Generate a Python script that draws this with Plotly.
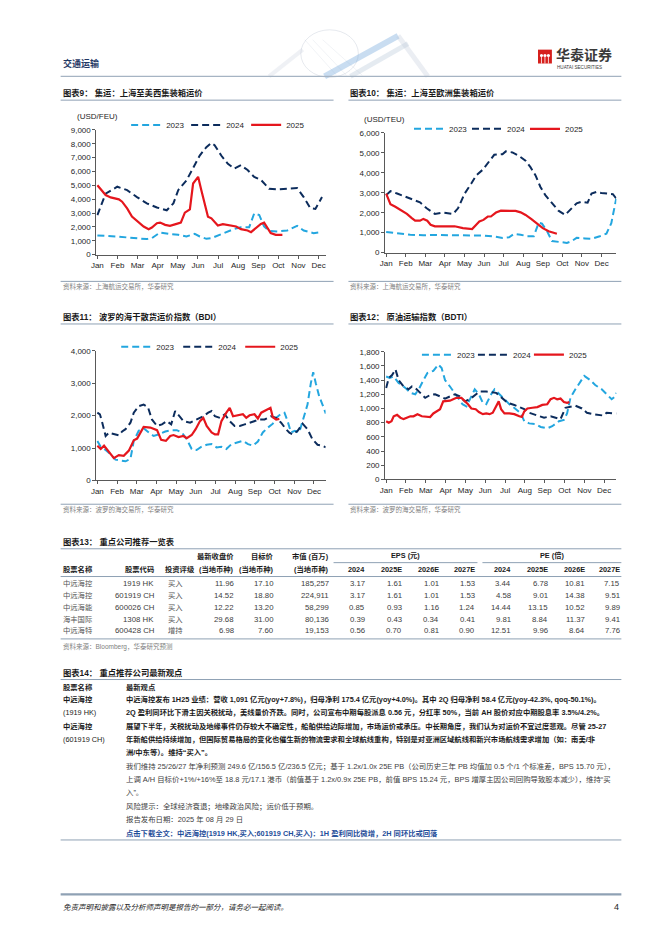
import plotly.graph_objects as go

W, H = 662, 936
FONT = "Liberation Sans, Arial, Noto Sans CJK SC, sans-serif"

# ------------------------------------------------------------------ data
MONTHS = ["Jan", "Feb", "Mar", "Apr", "May", "Jun", "Jul", "Aug", "Sep", "Oct", "Nov", "Dec"]
YEARS = ["2023", "2024", "2025"]
# time = months elapsed since 1 Jan (0 = Jan ... 11 = Dec)

# Chart 9: Shanghai -> US West coast (USD/FEU)
us_t23 = [0, 0.49, 0.99, 1.48, 1.97, 2.46, 2.71, 3.12, 3.53, 4.02, 4.43, 4.84, 5.09, 5.42, 5.67, 6.08, 6.49, 6.81,
          7.14, 7.55, 7.80, 8.05, 8.29, 8.54, 8.95, 9.44, 9.93, 10.26, 10.75, 11.0]
us_v23 = [1380, 1360, 1310, 1240, 1170, 1120, 1190, 1600, 1500, 1430, 1310, 1500, 1310, 1140, 1190, 1430, 1670, 1860,
          1980, 1980, 2980, 2860, 2030, 1720, 1670, 1740, 2080, 1740, 1550, 1600]
us_t24 = [0, 0.41, 0.99, 1.48, 1.97, 2.46, 2.96, 3.45, 3.78, 4.02, 4.43, 4.76, 5.09, 5.42, 5.67, 5.83, 6.16, 6.49,
          6.81, 7.14, 7.47, 7.80, 8.13, 8.54, 8.95, 9.44, 9.93, 10.26, 10.59, 10.84, 11.17]
us_v24 = [2850, 4400, 4900, 4650, 4150, 3700, 3400, 3200, 3700, 4650, 5350, 6300, 7150, 7750, 8050, 7900, 7150, 6550,
          6200, 6450, 6100, 5600, 5400, 4750, 4700, 4750, 4800, 4150, 3350, 3300, 4150]
us_t25 = [0, 0.41, 0.66, 1.07, 1.23, 1.48, 1.72, 1.97, 2.30, 2.55, 2.71, 2.96, 3.12, 3.37, 3.61, 3.94, 4.15, 4.35,
          4.60, 4.76, 5.01, 5.17, 5.34, 5.50, 5.67, 5.83, 5.99, 6.24, 6.57, 6.90, 7.14, 7.47, 7.64, 7.88, 8.13, 8.29,
          8.46, 8.62, 8.87, 9.20]
us_v25 = [5010, 4300, 4130, 3990, 3820, 3340, 2750, 2430, 2030, 1840, 1960, 2270, 2310, 2150, 2080, 2220, 2310, 3030,
          3270, 5130, 5610, 4650, 3700, 2740, 2620, 2390, 2100, 2200, 2100, 2030, 1840, 1740, 1620, 1910, 2220, 2310,
          1910, 1550, 1430, 1430]

# Chart 10: Shanghai -> Europe (USD/TEU)
eu_t23 = [0, 0.39, 0.72, 1.23, 1.90, 2.58, 3.25, 4.09, 4.93, 5.44, 5.94, 6.28, 6.53, 6.87, 7.21, 7.54, 7.79, 7.96,
          8.22, 8.47, 8.80, 9.23, 9.48, 9.73, 10.15, 10.49, 10.91, 11.25, 11.50, 11.67, 11.75]
eu_v23 = [1040, 990, 940, 900, 870, 890, 870, 870, 860, 820, 740, 770, 940, 900, 820, 820, 1500, 1450,
          1070, 580, 540, 490, 580, 740, 710, 690, 820, 950, 1480, 2300, 2700]
eu_t24 = [0, 0.22, 0.56, 0.98, 1.40, 1.73, 2.07, 2.49, 2.91, 3.42, 3.67, 4.01, 4.34, 4.60, 4.93, 5.27, 5.52, 5.94,
          6.11, 6.45, 6.78, 7.12, 7.37, 7.63, 7.88, 8.13, 8.47, 8.80, 9.14, 9.39, 9.73, 9.98, 10.29, 10.49, 10.74,
          10.99, 11.33, 11.58, 11.75]
eu_v24 = [2880, 3080, 2960, 2800, 2680, 2520, 2220, 1940, 2010, 1940, 2220, 2960, 3450, 3870, 4150, 4600, 4900, 4930,
          5070, 5020, 4850, 4600, 4280, 3870, 3290, 2880, 2470, 2100, 1890, 2140, 2470, 2550, 2500, 2960, 3040,
          2990, 2960, 2930, 2710]
eu_t25 = [0, 0.13, 0.22, 0.47, 0.81, 1.06, 1.31, 1.48, 1.73, 1.90, 2.10, 2.27, 2.49, 2.83, 3.08, 3.50, 3.92, 4.17,
          4.39, 4.60, 4.76, 4.97, 5.19, 5.35, 5.61, 5.86, 6.28, 6.61, 6.87, 7.12, 7.42, 7.71, 8.00, 8.30, 8.72]
eu_v25 = [2960, 2660, 2430, 2300, 2100, 1940, 1730, 1600, 1600, 1690, 1600, 1400, 1320, 1320, 1350, 1320, 1230, 1200,
          1180, 1400, 1560, 1640, 1810, 1810, 2010, 2100, 2100, 2090, 2020, 1890, 1680, 1450, 1230, 1070, 950]

# Chart 11: Baltic Dry Index
bdi_t23 = [0, 0.17, 0.42, 0.67, 0.92, 1.18, 1.43, 1.68, 1.85, 2.10, 2.35, 2.61, 2.86, 3.11, 3.45, 3.78, 4.03, 4.29,
           4.54, 4.79, 5.04, 5.29, 5.55, 5.80, 6.05, 6.30, 6.55, 6.81, 7.06, 7.39, 7.65, 7.90, 8.15, 8.40, 8.66, 8.91,
           9.08, 9.33, 9.50, 9.66, 9.83, 10.03, 10.25, 10.42, 10.67, 10.84, 10.96, 11.09, 11.26, 11.43, 11.60]
bdi_v23 = [1220, 1040, 940, 810, 640, 610, 590, 660, 1220, 1530, 1610, 1480, 1370, 1420, 1510, 1550, 1550, 1480,
           1270, 970, 940, 1040, 1100, 1120, 1020, 1040, 970, 1120, 1170, 1220, 1120, 1070, 1200, 1480, 1630, 1750,
           1930, 2060, 2090, 1830, 1480, 1530, 1480, 1830, 2340, 3000, 3340, 3000, 2600, 2340, 2060]
bdi_t24 = [0, 0.13, 0.25, 0.42, 0.59, 0.84, 1.09, 1.26, 1.43, 1.68, 1.85, 2.10, 2.35, 2.57, 2.77, 3.03, 3.28, 3.53,
           3.75, 3.95, 4.15, 4.37, 4.71, 5.04, 5.38, 5.63, 5.80, 5.97, 6.22, 6.47, 6.72, 6.97, 7.23, 7.48, 7.73, 7.98,
           8.24, 8.49, 8.82, 9.08, 9.33, 9.58, 9.75, 9.92, 10.17, 10.42, 10.67, 10.92, 11.18, 11.43, 11.60]
bdi_v24 = [2090, 2040, 1780, 1370, 1470, 1440, 1390, 1510, 1580, 1780, 2090, 2290, 2340, 2260, 1880, 1680, 1730, 1830,
           1730, 2140, 1980, 1830, 1780, 1880, 1980, 2090, 2140, 1980, 1930, 2040, 1830, 1680, 1680, 1730, 1780, 1830,
           1880, 1880, 1980, 1930, 1780, 1580, 1470, 1420, 1530, 1750, 1580, 1270, 1100, 1070, 1020]
bdi_t25 = [0, 0.17, 0.34, 0.59, 0.84, 1.09, 1.34, 1.60, 1.85, 2.02, 2.18, 2.35, 2.69, 3.03, 3.24, 3.48, 3.70, 3.87,
           4.12, 4.37, 4.54, 4.79, 4.99, 5.21, 5.38, 5.55, 5.80, 5.97, 6.13, 6.30, 6.55, 6.72, 6.89, 7.14, 7.39, 7.56,
           7.73, 7.98, 8.15, 8.32, 8.57, 8.79, 8.91, 9.08, 9.24]
bdi_v25 = [1070, 970, 1070, 870, 690, 780, 760, 920, 1240, 1290, 1480, 1650, 1630, 1550, 1250, 1220, 1370, 1400,
           1340, 1370, 1300, 1400, 1580, 1830, 1930, 1680, 1480, 1420, 1420, 1830, 2090, 2240, 1980, 2010, 2040, 1930,
           2010, 2040, 1910, 2090, 2160, 2240, 1950, 1880, 1900]

# Chart 12: Baltic Dirty Tanker Index
bdti_t23 = [0, 0.18, 0.38, 0.63, 0.97, 1.22, 1.47, 1.68, 1.88, 2.08, 2.38, 2.63, 2.80, 2.97, 3.22, 3.38, 3.63, 3.85,
            4.05, 4.30, 4.47, 4.68, 4.88, 5.05, 5.30, 5.47, 5.72, 5.97, 6.22, 6.55, 6.80, 6.97, 7.22, 7.55, 7.80, 8.13,
            8.38, 8.72, 8.97, 9.13, 9.30, 9.55, 9.80, 10.00, 10.30, 10.55, 10.88, 11.13, 11.38, 11.55, 11.62]
bdti_v23 = [1450, 1430, 1450, 1360, 1290, 1220, 1200, 1290, 1400, 1500, 1530, 1620, 1570, 1400, 1310, 1240, 1150, 1060,
            1030, 1170, 1270, 1200, 1080, 1060, 1200, 1270, 1200, 1130, 1060, 990, 930, 820, 790, 780, 740, 720,
            750, 820, 840, 930, 1150, 1270, 1380, 1460, 1400, 1330, 1270, 1200, 1130, 1170, 1220]
bdti_t24 = [0, 0.13, 0.30, 0.47, 0.63, 0.88, 1.13, 1.30, 1.47, 1.72, 1.97, 2.22, 2.47, 2.72, 2.97, 3.22, 3.47, 3.72,
            3.97, 4.22, 4.47, 4.72, 5.05, 5.30, 5.55, 5.80, 6.13, 6.47, 6.72, 6.97, 7.22, 7.47, 7.72, 7.97, 8.30, 8.55,
            8.80, 9.05, 9.30, 9.55, 9.88, 10.13, 10.47, 10.80, 10.97, 11.13, 11.38, 11.62]
bdti_v24 = [1290, 1430, 1470, 1550, 1400, 1310, 1270, 1310, 1290, 1220, 1150, 1190, 1200, 1170, 1140, 1170, 1200, 1170,
            1100, 1130, 1190, 1240, 1240, 1230, 1220, 1160, 1080, 1050, 1020, 990, 940, 920, 890, 870, 890, 870,
            850, 1010, 1030, 1040, 1000, 940, 920, 910, 900, 940, 930, 930]
bdti_t25 = [0, 0.13, 0.27, 0.38, 0.55, 0.72, 0.88, 1.05, 1.22, 1.38, 1.58, 1.80, 2.02, 2.22, 2.38, 2.55, 2.72, 2.88,
            3.05, 3.22, 3.38, 3.55, 3.80, 3.97, 4.13, 4.30, 4.52, 4.68, 4.88, 5.05, 5.22, 5.38, 5.52, 5.68, 5.80, 5.97,
            6.22, 6.47, 6.72, 6.85, 6.97, 7.13, 7.38, 7.63, 7.88, 8.13, 8.30, 8.47, 8.63, 8.80, 8.97, 9.13, 9.25]
bdti_v25 = [820, 800, 820, 890, 910, 870, 850, 870, 890, 890, 920, 890, 880, 880, 930, 960, 990, 1100,
            1100, 1110, 1130, 1150, 1150, 1110, 1060, 1000, 990, 950, 920, 930, 920, 940, 1010, 1100, 990, 930,
            930, 920, 890, 880, 960, 1000, 1010, 1020, 1050, 1060, 1130, 1150, 1130, 1140, 1090, 1080, 1090]

# Table 13
tb_names = ["中远海控", "中远海控", "中远海能", "海丰国际", "中远海特"]
tb_codes = ["1919 HK", "601919 CH", "600026 CH", "1308 HK", "600428 CH"]
tb_rating = ["买入", "买入", "买入", "买入", "增持"]
tb_close = [11.96, 14.52, 12.22, 29.68, 6.98]
tb_target = [17.10, 18.80, 13.20, 31.00, 7.60]
tb_mcap = [185257, 224911, 58299, 80136, 19153]
tb_eps = [[3.17, 1.61, 1.01, 1.53], [3.17, 1.61, 1.01, 1.53], [0.85, 0.93, 1.16, 1.24],
          [0.39, 0.43, 0.34, 0.41], [0.56, 0.70, 0.81, 0.90]]
tb_pe = [[3.44, 6.78, 10.81, 7.15], [4.58, 9.01, 14.38, 9.51], [14.44, 13.15, 10.52, 9.89],
         [9.81, 8.84, 11.37, 9.41], [12.51, 9.96, 8.64, 7.76]]
tb_years = ["2024", "2025E", "2026E", "2027E"]

# Table 14
view_left = ["<b>中远海控</b>", "(1919 HK)", "<b>中远海控</b>", "(601919 CH)"]
view_bold = [
    "中远海控发布 1H25 业绩：营收 1,091 亿元(yoy+7.8%)，归母净利 175.4 亿元(yoy+4.0%)。其中 2Q 归母净利 58.4 亿元(yoy-42.3%, qoq-50.1%)。",
    "2Q 盈利同环比下滑主因关税扰动，美线量价齐跌。同时，公司宣布中期每股派息 0.56 元，分红率 50%，当前 AH 股价对应中期股息率 3.5%/4.2%。",
    "展望下半年，关税扰动及地缘事件仍存较大不确定性，船舶供给边际增加，市场运价或承压。中长期角度，我们认为对运价不宜过度悲观。尽管 25-27",
    "年新船供给持续增加，但国际贸易格局的变化也催生新的物流需求和全球航线重构，特别是对亚洲区域航线和新兴市场航线需求增加（如：南美/非",
    "洲/中东等）。维持“买入”。",
]
view_plain = [
    "我们维持 25/26/27 年净利预测 249.6 亿/156.5 亿/236.5 亿元；基于 1.2x/1.0x 25E PB（公司历史三年 PB 均值加 0.5 个/1 个标准差，BPS 15.70 元），",
    "上调 A/H 目标价+1%/+16%至 18.8 元/17.1 港币（前值基于 1.2x/0.9x 25E PB，前值 BPS 15.24 元，BPS 增厚主因公司回购导致股本减少），维持“买",
    "入”。",
    "风险提示：全球经济衰退；地缘政治风险；运价低于预期。",
    "报告发布日期：2025 年 08 月 29 日",
]
view_link = "点击下载全文：中远海控(1919 HK,买入;601919 CH,买入)：1H 盈利同比微增，2H 同环比或回落"

# ------------------------------------------------------------------ styling
C23, C24, C25 = "#23A6DF", "#0C2C5C", "#E5161D"
LINE_C = "#8FA1B4"
ann, shapes = [], []


def X(px):
    return px / W


def Y(py):
    return 1 - py / H


def txt(x, y, s, size=8, color="#333333", anchor="left", family=FONT):
    ann.append(dict(x=X(x), y=Y(y), xref="paper", yref="paper", text=s, showarrow=False,
                    xanchor=anchor, yanchor="middle", borderpad=0,
                    font=dict(size=size, color=color, family=family)))


def hline(x0, x1, y, color=LINE_C, width=1):
    shapes.append(dict(type="line", xref="paper", yref="paper", x0=X(x0), x1=X(x1), y0=Y(y), y1=Y(y),
                       line=dict(color=color, width=width)))


def seg(x0, y0, x1, y1, color, width):
    shapes.append(dict(type="line", xref="paper", yref="paper", x0=X(x0), x1=X(x1), y0=Y(y0), y1=Y(y1),
                       line=dict(color=color, width=width), layer="below"))


fig = go.Figure()

charts = [
    dict(series=[(us_t23, us_v23), (us_t24, us_v24), (us_t25, us_v25)], ax="", xpx=(84, 315), ypx=(119, 245),
         xr=[-0.05, 11.35], ymax=9000, dt=1000, leg=(114, 114, 15), unit=("(USD/FEU)", 63, 106)),
    dict(series=[(eu_t23, eu_v23), (eu_t24, eu_v24), (eu_t25, eu_v25)], ax="2", xpx=(375, 608), ypx=(122, 243),
         xr=[-0.05, 11.76], ymax=6000, dt=1000, leg=(399, 118, 13), unit=("(USD/TEU)", 353, 109)),
    dict(series=[(bdi_t23, bdi_v23), (bdi_t24, bdi_v24), (bdi_t25, bdi_v25)], ax="3", xpx=(84, 315), ypx=(342, 473),
         xr=[-0.05, 11.59], ymax=4000, dt=1000, leg=(104, 338, 17), unit=None),
    dict(series=[(bdti_t23, bdti_v23), (bdti_t24, bdti_v24), (bdti_t25, bdti_v25)], ax="4", xpx=(375, 608),
         ypx=(343, 472), xr=[-0.05, 11.62], ymax=1800, dt=200, leg=(407, 346, 11), unit=None),
]

styles = [dict(color=C23, width=2, dash="7px,4px"), dict(color=C24, width=2, dash="7px,4px"),
          dict(color=C25, width=2.2)]

layout_extra = {}
for i, c in enumerate(charts):
    legname = "legend" if i == 0 else f"legend{i + 1}"
    for k, ((t, v), yr, st) in enumerate(zip(c["series"], YEARS, styles)):
        fig.add_trace(go.Scatter(x=t, y=v, mode="lines", name=yr, line=st,
                                 xaxis="x" + c["ax"], yaxis="y" + c["ax"], legend=legname,
                                 legendwidth=c["leg"][2] if k < 2 else 30, hoverinfo="skip"))
    axis_common = dict(showline=True, linecolor="#595959", linewidth=1, ticks="outside", ticklen=3,
                       tickcolor="#595959", showgrid=False, zeroline=False,
                       tickfont=dict(size=8, color="#262626", family=FONT))
    layout_extra["xaxis" + c["ax"]] = dict(domain=[X(c["xpx"][0]), X(c["xpx"][1])], range=c["xr"],
                                           tickmode="array", tickvals=list(range(12)), ticktext=MONTHS,
                                           anchor="y" + c["ax"], **axis_common)
    layout_extra["yaxis" + c["ax"]] = dict(domain=[Y(c["ypx"][1]), Y(c["ypx"][0])], range=[0, c["ymax"]],
                                           dtick=c["dt"], tick0=0, tickformat=",", anchor="x" + c["ax"],
                                           **axis_common)
    layout_extra[legname] = dict(x=X(c["leg"][0]), y=Y(c["leg"][1]), xanchor="left", yanchor="middle",
                                 orientation="h", bgcolor="rgba(0,0,0,0)", borderwidth=0,
                                 font=dict(size=8, color="#262626", family=FONT), itemwidth=30,
                                 tracegroupgap=0)
    if c["unit"]:
        txt(c["unit"][1], c["unit"][2], c["unit"][0], size=8, color="#262626")

# ------------------------------------------------------------------ page header / footer
# faint globe / ribbon decoration
shapes.append(dict(type="circle", xref="paper", yref="paper", x0=X(290), x1=X(348), y0=Y(66), y1=Y(18),
                   line=dict(color="rgba(150,165,185,0.3)", width=0.8), layer="below"))
for a, b in [(294, 300), (302, 310), (312, 326)]:
    seg(a, 28, b + 26, 64, "rgba(150,165,185,0.22)", 0.6)
seg(314, 65, 388, 24, "rgba(120,170,220,0.4)", 6)
seg(340, 65, 398, 32, "rgba(170,190,210,0.3)", 5)
seg(388, 24, 418, 65, "rgba(190,200,215,0.3)", 5)
seg(258, 65, 292, 38, "rgba(190,200,215,0.25)", 4)

txt(49, 52, "<b>交通运输</b>", size=9, color="#1F3864")
hline(48, 613, 65, color="#A6B4C3", width=1.2)
shapes.append(dict(type="rect", xref="paper", yref="paper", x0=X(529), x1=X(543), y0=Y(52), y1=Y(38),
                   fillcolor="#D6201C", line=dict(width=0)))
for cx in (532.5, 536, 539.5):
    shapes.append(dict(type="circle", xref="paper", yref="paper", x0=X(cx - 1.6), x1=X(cx + 1.6),
                       y0=Y(45.5), y1=Y(42.3), fillcolor="white", line=dict(width=0)))
    shapes.append(dict(type="line", xref="paper", yref="paper", x0=X(cx), x1=X(cx), y0=Y(52), y1=Y(45),
                       line=dict(color="white", width=0.8)))
txt(546, 43, "<b>华泰证券</b>", size=14, color="#3A3A3A")
txt(547, 56.5, "HUATAI SECURITIES", size=4.6, color="#3A3A3A")

hline(48, 613, 891, color="#8FA1B4", width=2.2)
txt(49, 904, "<i>免责声明和披露以及分析师声明是报告的一部分，请务必一起阅读。</i>", size=7.5, color="#262626")
txt(612, 904, "4", size=9, color="#262626", anchor="right")

# ------------------------------------------------------------------ chart titles / sources
titles = [("图表9： 集运：上海至美西集装箱运价", 49, 82, 48, 323),
          ("图表10： 集运：上海至欧洲集装箱运价", 339, 82, 338, 613),
          ("图表11： 波罗的海干散货运价指数（BDI）", 49, 308, 48, 323),
          ("图表12： 原油运输指数（BDTI）", 339, 308, 338, 613)]
for s, x, y, l0, l1 in titles:
    txt(x, y, "<b>" + s + "</b>", size=8.3, color="#1A1A1A")
    hline(l0, l1, y + 7)
sources = [("资料来源：上海航运交易所，华泰研究", 49, 277, 48, 323),
           ("资料来源：上海航运交易所，华泰研究", 339, 277, 338, 613),
           ("资料来源：波罗的海交易所，华泰研究", 49, 502, 48, 323),
           ("资料来源：波罗的海交易所，华泰研究", 339, 502, 338, 613)]
for s, x, y, l0, l1 in sources:
    txt(x, y, s, size=6.5, color="#808080")
    hline(l0, l1, y - 5)

# ------------------------------------------------------------------ table 13
txt(49, 535, "<b>图表13： 重点公司推荐一览表</b>", size=8.3, color="#1A1A1A")
hline(48, 613, 542)
HB = dict(size=7.3, color="#1A1A1A")
txt(224, 550, "<b>最新收盘价</b>", anchor="right", **HB)
txt(264, 550, "<b>目标价</b>", anchor="right", **HB)
txt(319, 550, "<b>市值 (百万)</b>", anchor="right", **HB)
txt(395, 549, "<b>EPS (元)</b>", anchor="center", **HB)
txt(543, 549, "<b>PE (倍)</b>", anchor="center", **HB)
hline(323, 468, 556)
hline(473, 613, 556)
txt(49, 563, "<b>股票名称</b>", **HB)
txt(143, 563, "<b>股票代码</b>", anchor="right", **HB)
txt(152, 563, "<b>投资评级</b>", **HB)
txt(224, 563, "<b>(当地币种)</b>", anchor="right", **HB)
txt(264, 563, "<b>(当地币种)</b>", anchor="right", **HB)
txt(319, 563, "<b>(当地币种)</b>", anchor="right", **HB)
eps_x = [356, 393, 430, 467]
pe_x = [503, 540, 577, 613]
for j, yr in enumerate(tb_years):
    txt(eps_x[j], 563, "<b>" + yr + "</b>", anchor="right", **HB)
    txt(pe_x[j], 563, "<b>" + yr + "</b>", anchor="right", **HB)
hline(48, 613, 570)
row_y = [577, 589, 601, 613, 625]
for i in range(len(tb_names)):
    y = row_y[i]
    txt(49, y, tb_names[i], size=7.3, color="#555555")
    txt(143, y, tb_codes[i], size=7.8, color="#404040", anchor="right")
    txt(164, y, tb_rating[i], size=7.3, color="#555555", anchor="center")
    txt(224, y, f"{tb_close[i]:.2f}", size=7.8, color="#404040", anchor="right")
    txt(264, y, f"{tb_target[i]:.2f}", size=7.8, color="#404040", anchor="right")
    txt(319, y, f"{tb_mcap[i]:,}", size=7.8, color="#404040", anchor="right")
    for j in range(4):
        txt(eps_x[j], y, f"{tb_eps[i][j]:.2f}", size=7.8, color="#404040", anchor="right")
        txt(pe_x[j], y, f"{tb_pe[i][j]:.2f}", size=7.8, color="#404040", anchor="right")
hline(48, 613, 633)
txt(49, 641, "资料来源：Bloomberg，华泰研究预测", size=6.5, color="#808080")

# ------------------------------------------------------------------ table 14
txt(49, 667, "<b>图表14： 重点推荐公司最新观点</b>", size=8.3, color="#1A1A1A")
hline(48, 613, 674)
txt(49, 682, "<b>股票名称</b>", size=7.3, color="#1A1A1A")
txt(113, 682, "<b>最新观点</b>", size=7.3, color="#1A1A1A")
line_y = [694, 707.5, 721, 734.5, 748, 761.5, 775, 788.5, 802, 815.5, 829]
for s, y in zip(view_left, line_y[:4]):
    txt(49, y, s, size=7.3, color="#1A1A1A")
k = 0
for s in view_bold:
    txt(113, line_y[k], "<b>" + s + "</b>", size=7.3, color="#1A1A1A")
    k += 1
for s in view_plain:
    txt(113, line_y[k], s, size=7.4, color="#404040")
    k += 1
txt(113, line_y[k], "<b>" + view_link + "</b>", size=7.3, color="#1F4E9A")
hline(48, 613, 836)

fig.update_layout(width=W, height=H, autosize=False, margin=dict(l=0, r=0, t=0, b=0),
                  paper_bgcolor="white", plot_bgcolor="white", showlegend=True,
                  annotations=ann, shapes=shapes, **layout_extra)
fig.write_html("out.html")
